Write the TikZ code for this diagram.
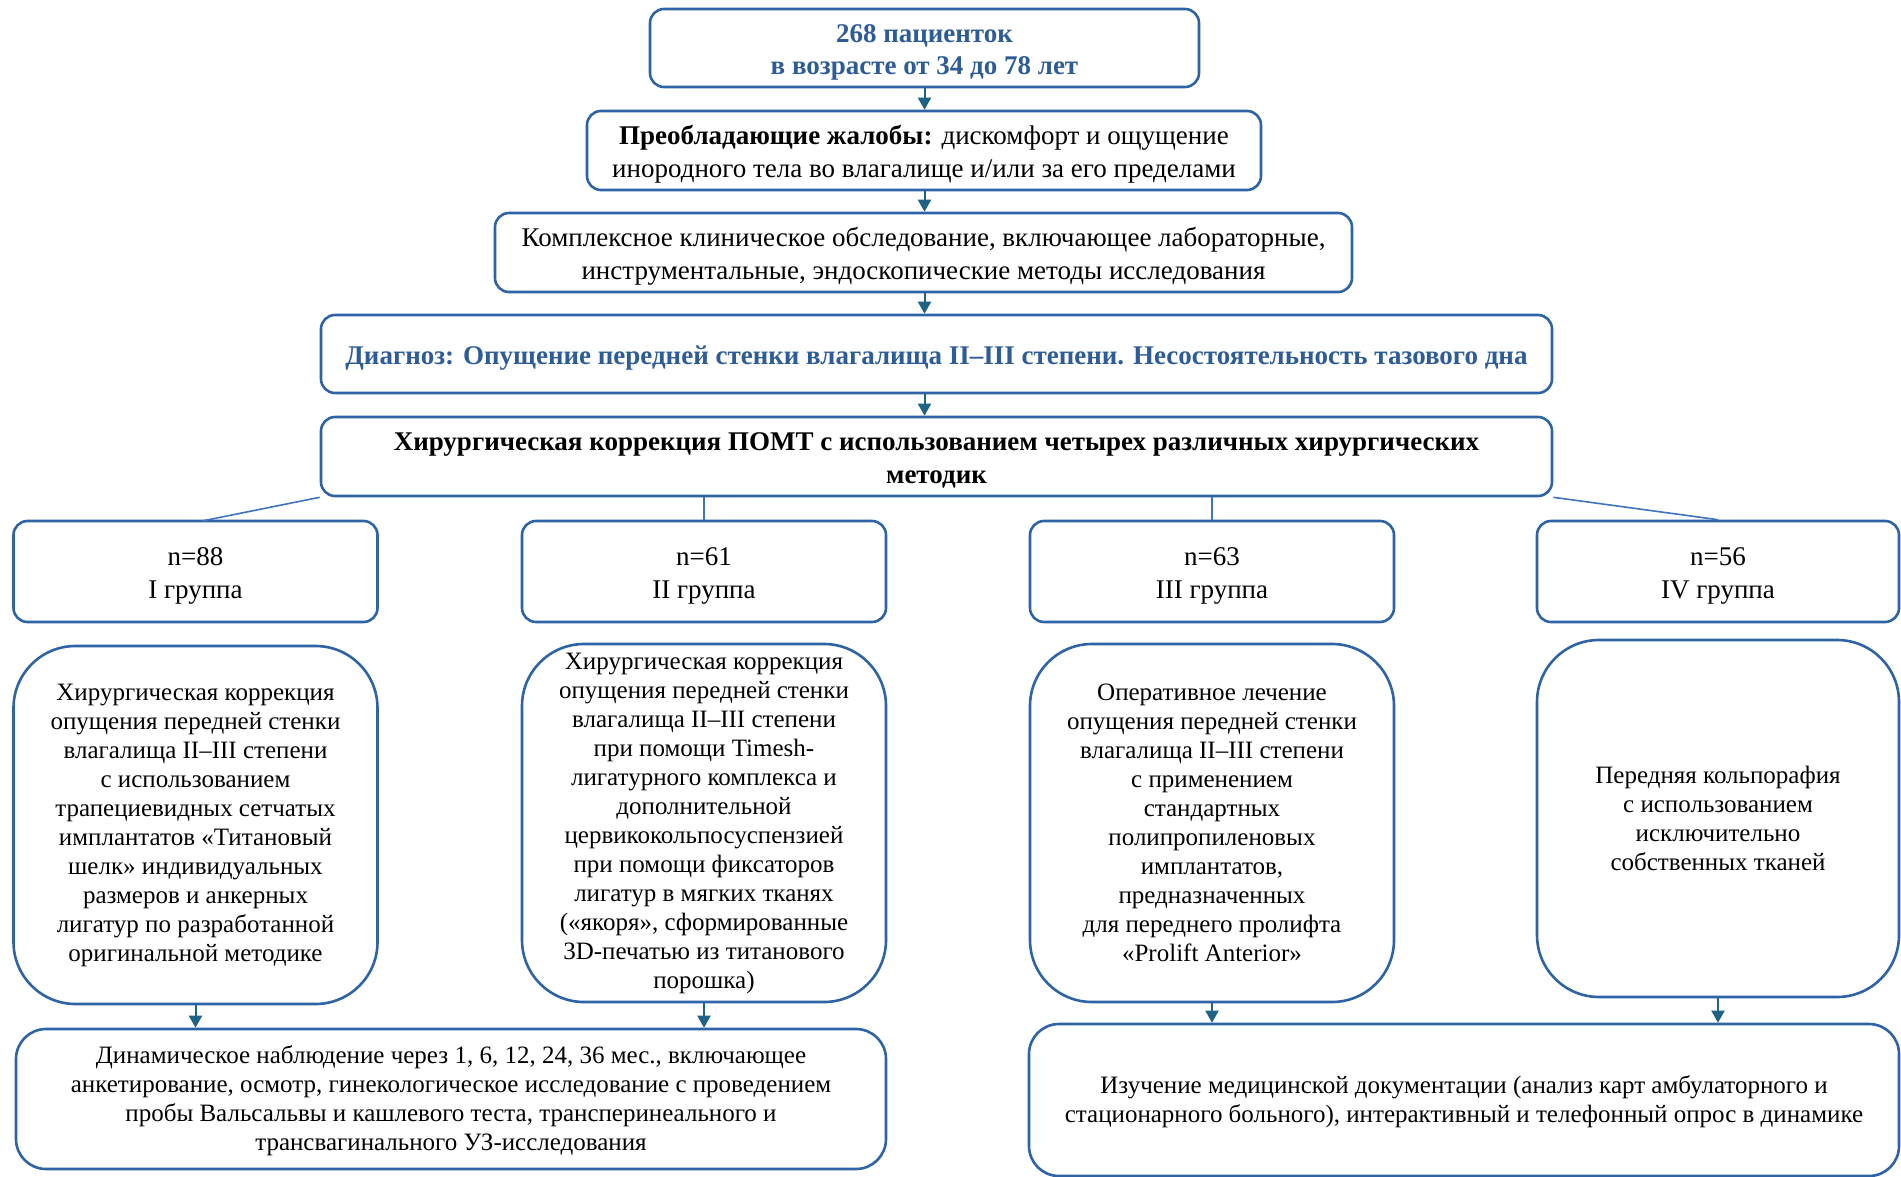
\documentclass[tikz,border=0pt]{standalone}
\usepackage{fontspec}
\setmainfont{Liberation Serif}
\usetikzlibrary{arrows.meta}
\definecolor{boxblue}{HTML}{2E63A6}
\definecolor{textblue}{HTML}{2E5C99}
\definecolor{arrowcol}{HTML}{1F6384}
\definecolor{linecol}{HTML}{3F74BF}
\tikzset{
  topbox/.style={draw=boxblue, line width=2.6pt, rounded corners=14pt, inner sep=0pt},
  methbox/.style={draw=boxblue, line width=2.6pt, rounded corners=62pt, inner sep=0pt, minimum width=364pt},
  botbox/.style={draw=boxblue, line width=2.6pt, rounded corners=30pt, inner sep=0pt},
  toptext/.style={align=center, inner sep=0pt, yshift=-4pt, font=\fontsize{27}{33}\selectfont},
  bluetext/.style={toptext, text=textblue, font=\fontsize{27}{32}\selectfont\bfseries},
  smalltext/.style={align=center, inner sep=0pt, font=\fontsize{25}{29}\selectfont},
  arr/.style={draw=arrowcol, line width=2pt, -{Triangle[width=13pt,length=12pt]}},
  conn/.style={draw=linecol, line width=1.6pt}
}
\begin{document}
\begin{tikzpicture}[x=1pt,y=-1pt]
\useasboundingbox (0,0) rectangle (1901,1177);
\fill[white] (0,0) rectangle (1901,1177);

% top chain
\node[topbox, minimum width=549pt, minimum height=78pt] (b1) at (924.5,48) {};
\node[bluetext] (t1) at (b1.center) {268 пациенток\\в возрасте от 34 до 78 лет};
\node[topbox, minimum width=674pt, minimum height=79pt] (b2) at (924,150.5) {};
\node[toptext] (t2) at (b2.center) {\textbf{Преобладающие жалобы:} дискомфорт и ощущение\\инородного тела во влагалище и/или за его пределами};
\node[topbox, minimum width=857pt, minimum height=79pt] (b3) at (923.5,252.5) {};
\node[toptext] (t3) at (b3.center) {Комплексное клиническое обследование, включающее лабораторные,\\инструментальные, эндоскопические методы исследования};
\node[topbox, minimum width=1231pt, minimum height=78pt] (b4) at (936.5,354) {};
\node[bluetext] (t4) at (b4.center) {Диагноз: Опущение передней стенки влагалища II–III степени. Несостоятельность тазового дна};
\node[topbox, minimum width=1231pt, minimum height=79pt] (b5) at (936.5,456.5) {};
\node[toptext, font=\fontsize{27}{33}\selectfont\bfseries] (t5) at (b5.center) {Хирургическая коррекция ПОМТ с использованием четырех различных хирургических\\методик};

\draw[arr] (b1.south) -- (b1 |- b2.north);
\draw[arr] (b1 |- b2.south) -- (b1 |- b3.north);
\draw[arr] (b1 |- b3.south) -- (b1 |- b4.north);
\draw[arr] (b1 |- b4.south) -- (b1 |- b5.north);

% groups
\node[topbox, minimum width=364pt, minimum height=101pt] (g1) at (195.5,571.5) {};
\node[toptext] (tg1) at (g1.center) {n=88\\I группа};
\node[topbox, minimum width=364pt, minimum height=101pt] (g2) at (704,571.5) {};
\node[toptext] (tg2) at (g2.center) {n=61\\II группа};
\node[topbox, minimum width=364pt, minimum height=101pt] (g3) at (1212,571.5) {};
\node[toptext] (tg3) at (g3.center) {n=63\\III группа};
\node[topbox, minimum width=362pt, minimum height=101pt] (g4) at (1718,571.5) {};
\node[toptext] (tg4) at (g4.center) {n=56\\IV группа};

\draw[conn] (b5.south west) -- (202,521);
\draw[conn] (g2 |- b5.south) -- (g2.north);
\draw[conn] (g3 |- b5.south) -- (g3.north);
\draw[conn] (b5.south east) -- (g4.north);

% methods
\node[methbox, minimum height=358pt] (m1) at (195.5,825) {};
\node[smalltext] (tm1) at (m1.center)
  {Хирургическая коррекция\\опущения передней стенки\\влагалища II–III степени\\с использованием\\трапециевидных сетчатых\\имплантатов «Титановый\\шелк» индивидуальных\\размеров и анкерных\\лигатур по разработанной\\оригинальной методике};
\node[methbox, minimum height=358pt] (m2) at (704,823) {};
\node[smalltext] (tm2) at (m2.center)
  {Хирургическая коррекция\\опущения передней стенки\\влагалища II–III степени\\при помощи Timesh-\\лигатурного комплекса и\\дополнительной\\цервикокольпосуспензией\\при помощи фиксаторов\\лигатур в мягких тканях\\(«якоря», сформированные\\3D-печатью из титанового\\порошка)};
\node[methbox, minimum height=358pt] (m3) at (1212,823) {};
\node[smalltext] (tm3) at (m3.center)
  {Оперативное лечение\\опущения передней стенки\\влагалища II–III степени\\с применением\\стандартных\\полипропиленовых\\имплантатов,\\предназначенных\\для переднего пролифта\\«Prolift Anterior»};
\node[methbox, minimum width=362pt, minimum height=357pt] (m4) at (1718,818.5) {};
\node[smalltext] (tm4) at (m4.center)
  {Передняя кольпорафия\\с использованием\\исключительно\\собственных тканей};

% bottom
\node[botbox, minimum width=870pt, minimum height=140pt] (r1) at (451,1099) {};
\node[smalltext, yshift=-2pt] (tr1) at (r1.center)
  {Динамическое наблюдение через 1, 6, 12, 24, 36 мес., включающее\\анкетирование, осмотр, гинекологическое исследование с проведением\\пробы Вальсальвы и кашлевого теста, трансперинеального и\\трансвагинального УЗ-исследования};
\node[botbox, minimum width=870pt, minimum height=152pt] (r2) at (1464,1100) {};
\node[smalltext, yshift=-2pt] (tr2) at (r2.center)
  {Изучение медицинской документации (анализ карт амбулаторного и\\стационарного больного), интерактивный и телефонный опрос в динамике};

\draw[arr] (m1.south) -- (m1 |- r1.north);
\draw[arr] (m2.south) -- (m2 |- r1.north);
\draw[arr] (m3.south) -- (m3 |- r2.north);
\draw[arr] (m4.south) -- (m4 |- r2.north);
\end{tikzpicture}
\end{document}
